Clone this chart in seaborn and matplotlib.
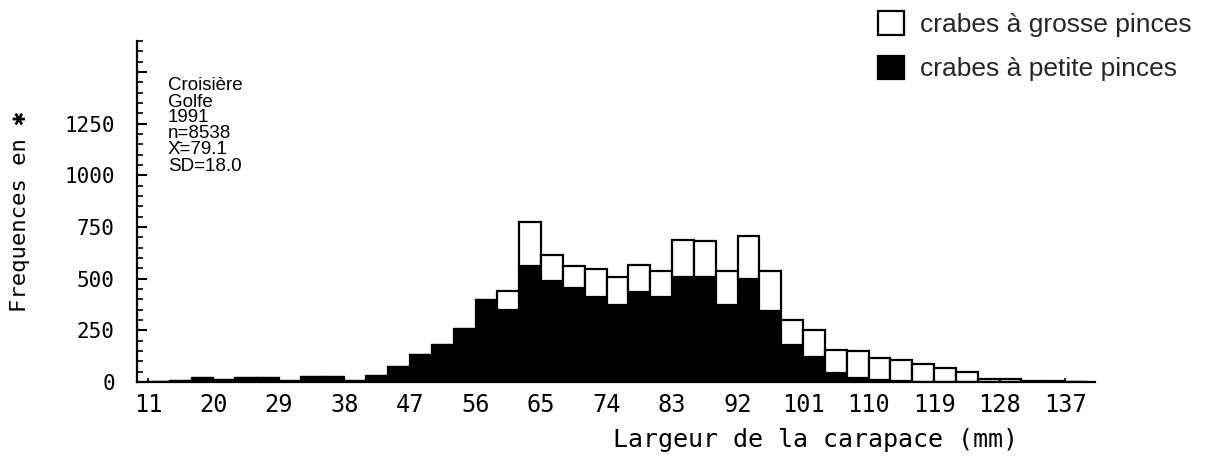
import matplotlib
matplotlib.use("Agg")
import numpy as np
import pandas as pd
import matplotlib.pyplot as plt
import seaborn as sns
from matplotlib.patches import Patch
from matplotlib.ticker import FixedLocator, FixedFormatter, MultipleLocator

# ---- data ----
bin_left = list(range(11, 140, 3))          # 3 mm classes, 11..137
petite = [2, 3, 20, 8, 20, 20, 5, 25, 25, 5, 30, 73, 133, 181, 255, 399,
          346, 559, 490, 454, 413, 375, 434, 410, 506, 506, 375, 498, 343,
          178, 122, 45, 18, 10, 5, 2, 0, 0, 0, 0, 0, 0, 0]
grosse = [0, 0, 0, 0, 0, 0, 0, 0, 0, 0, 0, 0, 0, 0, 0, 0,
          93, 215, 124, 108, 132, 131, 133, 125, 181, 177, 163, 209, 195,
          120, 128, 109, 131, 104, 101, 83, 66, 50, 16, 13, 5, 5, 2]
x_ticks = [11, 20, 29, 38, 47, 56, 65, 74, 83, 92, 101, 110, 119, 128, 137]
y_ticks = [0, 250, 500, 750, 1000, 1250, 1500]
y_labels = ["0", "250", "500", "750", "1000", "1250", ""]
info_lines = ["Croisière", "Golfe", "1991", "n=8538", "X\u0304=79.1", "SD=18.0"]
lab_grosse = "crabes à grosse pinces"
lab_petite = "crabes à petite pinces"

# ---- build long table ----
width = 3
mids = [b + width / 2 for b in bin_left]
edges = bin_left + [bin_left[-1] + width]
df = pd.DataFrame({
    "mid": mids * 2,
    "count": grosse + petite,
    "group": [lab_grosse] * len(mids) + [lab_petite] * len(mids),
})

sns.set_style("white")
mono = "DejaVu Sans Mono"
sans = "Liberation Sans"

fig = plt.figure(figsize=(12.07, 4.61), dpi=100)
ax = fig.add_axes([137 / 1207, 1 - 382 / 461, (1095 - 137) / 1207, (382 - 41) / 461])

sns.histplot(data=df, x="mid", weights="count", hue="group",
             hue_order=[lab_grosse, lab_petite], bins=edges,
             multiple="stack",
             palette={lab_grosse: "white", lab_petite: "black"},
             edgecolor="black", linewidth=1.6, alpha=1, legend=False, ax=ax)

ax.set_xlim(9.5, 141.1)
ax.set_ylim(0, 1650)

for s in ["top", "right"]:
    ax.spines[s].set_visible(False)
for s in ["left", "bottom"]:
    ax.spines[s].set_color("black")
    ax.spines[s].set_linewidth(1.6)

ax.yaxis.set_major_locator(FixedLocator(y_ticks))
ax.yaxis.set_major_formatter(FixedFormatter(y_labels))
ax.yaxis.set_minor_locator(MultipleLocator(50))
ax.tick_params(axis="y", which="major", left=True, direction="in", length=7,
               width=1.5, pad=16, labelsize=15, colors="black")
ax.tick_params(axis="y", which="minor", left=True, direction="in", length=4,
               width=1.2, colors="black")
ax.xaxis.set_major_locator(FixedLocator(x_ticks))
ax.tick_params(axis="x", which="major", bottom=True, direction="in", length=3,
               width=1.2, pad=8, labelsize=17, colors="black")
for lab in ax.get_xticklabels() + ax.get_yticklabels():
    lab.set_fontfamily(mono)

ax.set_xlabel("Largeur de la carapace (mm)", fontsize=18, family=mono,
              color="black")
ax.xaxis.set_label_coords(0.708, -0.135)
ax.set_ylabel("Frequences en \u2731", fontsize=16, family=[mono, "DejaVu Sans"],
              color="black")
ax.yaxis.set_label_coords(-0.112, 0.5)

# info block
y0 = 86
for i, line in enumerate(info_lines):
    fig.text(168 / 1207, 1 - (y0 + i * 16) / 461, line, fontsize=13.5,
             family=[sans, "DejaVu Sans"], va="center", ha="left", color="black")

# legend
handles = [Patch(facecolor="white", edgecolor="black", linewidth=1.6, label=lab_grosse),
           Patch(facecolor="black", edgecolor="black", linewidth=1.6, label=lab_petite)]
fig.legend(handles=handles, loc="upper left", bbox_to_anchor=(862 / 1207, 1.01),
           frameon=False, prop={"family": sans, "size": 19},
           handlelength=1.0, handleheight=1.0, handletextpad=0.6,
           labelspacing=0.7, borderaxespad=0.2)

fig.savefig("out.png", dpi=100, facecolor="white")
